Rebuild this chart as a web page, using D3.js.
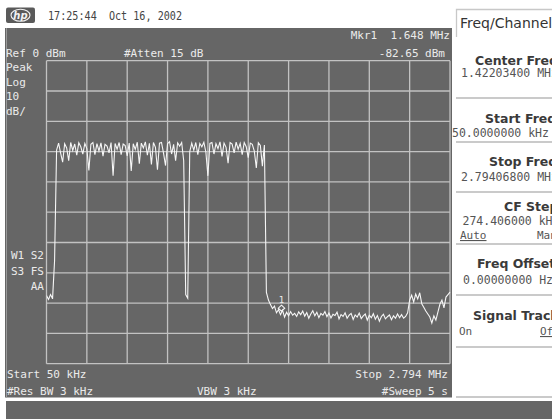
<!DOCTYPE html>
<html><head><meta charset="utf-8">
<script src="https://cdn.jsdelivr.net/npm/d3@7"></script>
<style>html,body{margin:0;padding:0;background:#fff;overflow:hidden}</style>
</head><body>
<script>
// ---- data ----
const startMHz = 0.05, stopMHz = 2.794;
const refLevelDbm = 0, dbPerDiv = 10, numDivs = 10;
const traceDbm = [
-77.5,-78.8,-77.2,-78.6,-66.0,-29.5,-27.2,-30.5,-33.5,-27.4,
-28.8,-33.0,-27.0,-29.6,-27.5,-31.2,-27.1,-28.4,-30.8,-27.3,
-29.0,-36.2,-27.6,-27.0,-31.0,-27.4,-29.8,-27.1,-31.5,-27.6,
-28.2,-30.4,-27.0,-38.0,-27.3,-29.2,-27.0,-31.0,-27.5,-28.0,
-31.4,-27.2,-36.4,-27.4,-29.3,-26.9,-34.0,-27.2,-28.8,-26.8,
-31.2,-27.3,-34.2,-27.0,-28.6,-36.0,-27.2,-27.0,-30.5,-34.6,
-27.4,-26.7,-30.8,-27.6,-33.0,-27.1,-28.2,-27.0,-33.0,-77.2,
-78.4,-30.0,-27.2,-29.5,-27.0,-31.0,-27.3,-28.4,-26.9,-30.2,
-38.0,-27.3,-27.0,-30.8,-27.4,-29.0,-26.8,-31.6,-27.2,-28.6,
-33.8,-27.0,-27.5,-30.4,-26.9,-29.2,-27.3,-31.0,-27.0,-28.4,
-32.0,-27.2,-27.6,-29.8,-35.4,-27.1,-28.0,-34.8,-27.8,-76.5,
-79.0,-80.5,-81.8,-81.0,-83.2,-82.2,-83.8,-82.4,-84.6,-83.0,
-84.2,-82.8,-84.0,-83.4,-84.4,-82.9,-83.8,-82.6,-84.3,-83.1,
-85.0,-83.6,-82.5,-84.2,-83.0,-84.8,-83.4,-84.0,-82.8,-84.5,
-83.3,-84.9,-83.7,-84.1,-83.0,-85.2,-83.8,-84.4,-83.2,-85.0,
-84.0,-83.4,-85.4,-83.9,-84.6,-83.3,-85.1,-84.2,-83.6,-85.6,
-84.0,-84.8,-83.5,-85.3,-84.1,-86.0,-84.4,-83.7,-85.2,-84.5,
-83.9,-85.5,-84.2,-85.0,-83.6,-84.8,-83.8,-85.0,-84.4,-83.2,
-79.0,-77.4,-79.6,-77.0,-78.6,-76.6,-80.2,-81.4,-82.6,-83.6,
-84.6,-86.6,-84.2,-85.6,-83.0,-80.4,-79.0,-81.6,-78.0,-77.2,
-76.4
];
const markerMHz = 1.648, markerDbm = -82.65, markerName = "1";
const headerTime = "17:25:44  Oct 16, 2002";
const topLeftLabels = ["Ref 0 dBm", "#Atten 15 dB"];
const markerReadout = ["Mkr1  1.648 MHz", "-82.65 dBm"];
const scaleLabels = ["Peak", "Log", "10", "dB/"];
const statusLabels = ["W1 S2", "S3 FS", "AA"];
const bottomLabels = ["Start 50 kHz", "#Res BW 3 kHz", "VBW 3 kHz", "Stop 2.794 MHz", "#Sweep 5 s"];
const menuTitle = "Freq/Channel";
const softkeyLabels = ["Center Freq", "Start Freq", "Stop Freq", "CF Step", "Freq Offset", "Signal Track"];
const softkeyValues = ["1.42203400 MHz", "50.0000000 kHz", "2.79406800 MHz", "274.406000 kHz", "0.00000000 Hz"];
const toggleLabels = [["Auto", "Man"], ["On", "Off"]];

// ---- drawing ----
const W = 552, H = 419;
const svg = d3.select("body").append("svg").attr("width", W).attr("height", H)
  .style("display", "block");
svg.append("rect").attr("width", W).attr("height", H).attr("fill", "#ffffff");

const mono = "'DejaVu Sans Mono', 'Liberation Mono', monospace";
const sans = "'DejaVu Sans', 'Liberation Sans', sans-serif";
const scrText = "#ebebeb";

// header
const logo = svg.append("g");
logo.append("rect").attr("x", 6).attr("y", 7.5).attr("width", 29).attr("height", 15.5).attr("rx", 2).attr("fill", "#5a5a5a");
logo.append("ellipse").attr("cx", 20.5).attr("cy", 15.2).attr("rx", 9.5).attr("ry", 6).attr("fill", "none").attr("stroke", "#f2f2f2").attr("stroke-width", 1.1);
logo.append("text").attr("x", 20.5).attr("y", 18.8).attr("text-anchor", "middle")
  .attr("font-family", sans).attr("font-style", "italic").attr("font-weight", "bold").attr("font-size", 10)
  .attr("fill", "#f2f2f2").text("hp");
svg.append("text").attr("x", 48).attr("y", 19.5).attr("font-family", mono).attr("font-size", 12)
  .attr("fill", "#444").attr("textLength", 134).attr("lengthAdjust", "spacingAndGlyphs")
  .style("white-space", "pre").text(headerTime);

// screen
svg.append("rect").attr("x", 5).attr("y", 28).attr("width", 447).attr("height", 369.5).attr("fill", "#666666");
svg.append("line").attr("x1", 6.5).attr("x2", 6.5).attr("y1", 28).attr("y2", 397.5).attr("stroke", "#9a9a9a").attr("stroke-width", 1);
svg.append("rect").attr("x", 6).attr("y", 401).attr("width", W - 6).attr("height", 18).attr("fill", "#666666");

const x = d3.scaleLinear().domain([startMHz, stopMHz]).range([46.5, 450]);
const y = d3.scaleLinear().domain([refLevelDbm - dbPerDiv * numDivs, refLevelDbm]).range([363.7, 60.7]);

const gridF = d3.range(numDivs + 1).map(k => startMHz + k * (stopMHz - startMHz) / numDivs);
const gridD = d3.range(numDivs + 1).map(k => refLevelDbm - k * dbPerDiv);
const grid = svg.append("g").attr("stroke", "#c2c2c2").attr("stroke-width", 1.3);
grid.selectAll("line.v").data(gridF).join("line").attr("class", "v")
  .attr("x1", d => x(d)).attr("x2", d => x(d)).attr("y1", y.range()[1]).attr("y2", y.range()[0]);
grid.selectAll("line.h").data(gridD).join("line").attr("class", "h")
  .attr("y1", d => y(d)).attr("y2", d => y(d)).attr("x1", x.range()[0]).attr("x2", x.range()[1]);

svg.append("clipPath").attr("id", "plotclip").append("rect")
  .attr("x", x.range()[0]).attr("y", y.range()[1] - 1).attr("width", x.range()[1] - x.range()[0] + 1).attr("height", y.range()[0] - y.range()[1] + 2);

const step = (stopMHz - startMHz) / (traceDbm.length - 1);
const line = d3.line().x((d, i) => x(startMHz + i * step)).y(d => y(d));
svg.append("path").datum(traceDbm).attr("d", line).attr("fill", "none")
  .attr("stroke", "#f6f6f6").attr("stroke-width", 1.1).attr("clip-path", "url(#plotclip)");

// marker
const mx = x(markerMHz), my = y(markerDbm) - 3;
svg.append("path").attr("d", `M${mx},${my - 3}L${mx + 3.2},${my}L${mx},${my + 3}L${mx - 3.2},${my}Z`)
  .attr("fill", "none").attr("stroke", "#f6f6f6").attr("stroke-width", 1.1);
svg.append("text").attr("x", mx).attr("y", my - 5).attr("text-anchor", "middle")
  .attr("font-family", mono).attr("font-size", 9).attr("fill", scrText).text(markerName);

// screen annotations
function st(t, xx, yy, anchor) {
  return svg.append("text").attr("x", xx).attr("y", yy).attr("text-anchor", anchor || "start")
    .attr("font-family", mono).attr("font-size", 11).attr("fill", scrText)
    .style("white-space", "pre").text(t);
}
st(topLeftLabels[0], 6, 57);
st(topLeftLabels[1], 124, 57);
st(markerReadout[0], 450, 39, "end");
st(markerReadout[1], 445, 57, "end");
scaleLabels.forEach((t, i) => st(t, 6, 71 + i * 14.7));
statusLabels.forEach((t, i) => st(t, 44, 259 + i * 15.5, "end"));
st(bottomLabels[0], 7, 377.5);
st(bottomLabels[1], 7, 395);
st(bottomLabels[2], 197, 395);
st(bottomLabels[3], 448, 377.5, "end");
st(bottomLabels[4], 448, 395, "end");

// softkey panel
svg.append("path").attr("d", "M456.5,37 V9.5 H552").attr("fill", "none").attr("stroke", "#c8c8c8").attr("stroke-width", 1.3);
svg.append("text").attr("x", 460).attr("y", 28).attr("font-family", sans).attr("font-size", 14)
  .attr("fill", "#333").text(menuTitle);
const seps = [98, 142, 192, 244, 295, 347, 397];
svg.selectAll("line.sep").data(seps).join("line").attr("class", "sep")
  .attr("x1", 456).attr("x2", W).attr("y1", d => d).attr("y2", d => d)
  .attr("stroke", "#cacaca").attr("stroke-width", 2);
const labelX = [475, 485, 489, 504, 477, 473];
const labelY = [64.5, 123, 166, 211, 267.5, 319.5];
softkeyLabels.forEach((t, i) => {
  svg.append("text").attr("x", labelX[i]).attr("y", labelY[i]).attr("font-family", sans)
    .attr("font-weight", "bold").attr("font-size", 12.5).attr("fill", "#3a3a3a").text(t);
});
const valX = [461, 452, 461, 462.5, 463];
const valY = [77, 137, 181, 224.5, 284];
softkeyValues.forEach((t, i) => {
  svg.append("text").attr("x", valX[i]).attr("y", valY[i]).attr("font-family", mono)
    .attr("font-size", 11.5).attr("fill", "#555").text(t);
});
function tog(pair, yy, underlineIdx, xs) {
  pair.forEach((t, i) => {
    const tx = svg.append("text").attr("x", xs[i]).attr("y", yy).attr("font-family", mono)
      .attr("font-size", 11).attr("fill", "#555").text(t);
    if (i === underlineIdx) tx.attr("text-decoration", "underline");
  });
}
tog(toggleLabels[0], 239, 0, [460, 537]);
tog(toggleLabels[1], 335, 1, [459, 540]);
</script>
</body></html>
